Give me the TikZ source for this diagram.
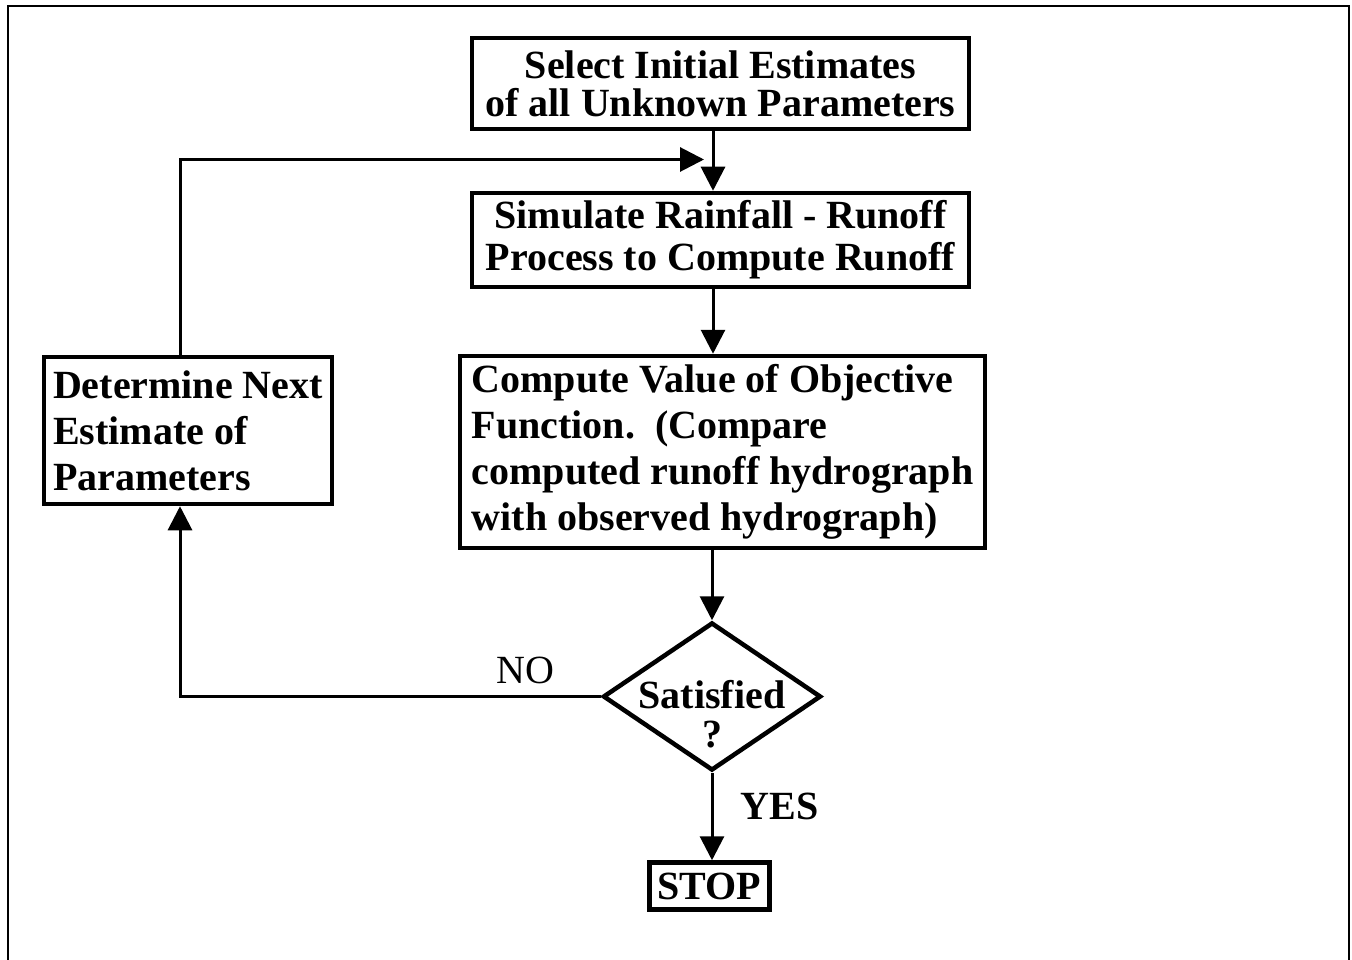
\documentclass[tikz,border=0pt]{standalone}
\usepackage{fontspec}
\setmainfont{Liberation Serif}
\usetikzlibrary{arrows.meta,shapes.geometric}

\tikzstyle{box}=[draw,line width=4.5pt,inner sep=0pt,font=\bfseries]
\tikzstyle{arr}=[-{Triangle[length=24pt,width=24pt]},line width=3pt]
\newcommand{\flowbox}[5]{\node[box,font=\fontsize{40}{#4}\selectfont\bfseries,#3] (#1) at (#2) {#5};}
\tikzset{
	lbl/.style={font=\fontsize{40}{39}\selectfont},
}

\begin{document}
\begin{tikzpicture}[x=1pt,y=-1pt]
    \useasboundingbox (0,0) rectangle (1352,960);
    % open frame
    \draw[line width=2.5pt] (8,960) -- (8,6) -- (1349,6) -- (1349,960);

    \flowbox{init}{720.5,83.5}{align=center,minimum width=497pt,minimum height=91pt}{38}{Select Initial Estimates\\of all Unknown Parameters}
    \flowbox{sim}{720.5,240}{align=center,minimum width=497pt,minimum height=94pt}{42}{Simulate Rainfall - Runoff\\Process to Compute Runoff}
    \flowbox{obj}{722.5,452}{align=left,minimum width=525pt,minimum height=192pt}{46}{Compute Value of Objective\\Function.\ \ (Compare\\computed runoff hydrograph\\with observed hydrograph)}
    \flowbox{next}{188,430.5}{align=left,minimum width=288pt,minimum height=147pt}{46}{Determine Next\\Estimate of\\Parameters}
    \flowbox{stop}{709.5,886}{minimum width=120pt,minimum height=47pt}{38}{STOP}
    \node[box,shape=diamond,minimum width=218pt,minimum height=148pt,
          label={[lbl,font=\fontsize{40}{39}\selectfont\bfseries,align=center,yshift=-18pt]center:{Satisfied\\?}}] (sat) at (712,696.5) {};

    \coordinate (spine) at (713,0);
    \coordinate (join) at (704,159.5);

    \draw[arr] (init.south -| spine) -- (sim.north -| spine);
    \draw[arr] (sim.south -| spine) -- (obj.north -| spine);
    \draw[arr] (obj.south -| sat.north) -- (sat.north);
    \draw[arr] ([xshift=-8pt]next.north) |- (join);
    \draw[arr] (sat.west) -| node[lbl,pos=0.09,above=8pt] {NO} ([xshift=-8pt]next.south);
    \draw[arr] (sat.south) -- node[lbl,font=\fontsize{40}{39}\selectfont\bfseries,pos=0.38,right=24pt] {YES} (stop.north -| sat.south);
\end{tikzpicture}
\end{document}
